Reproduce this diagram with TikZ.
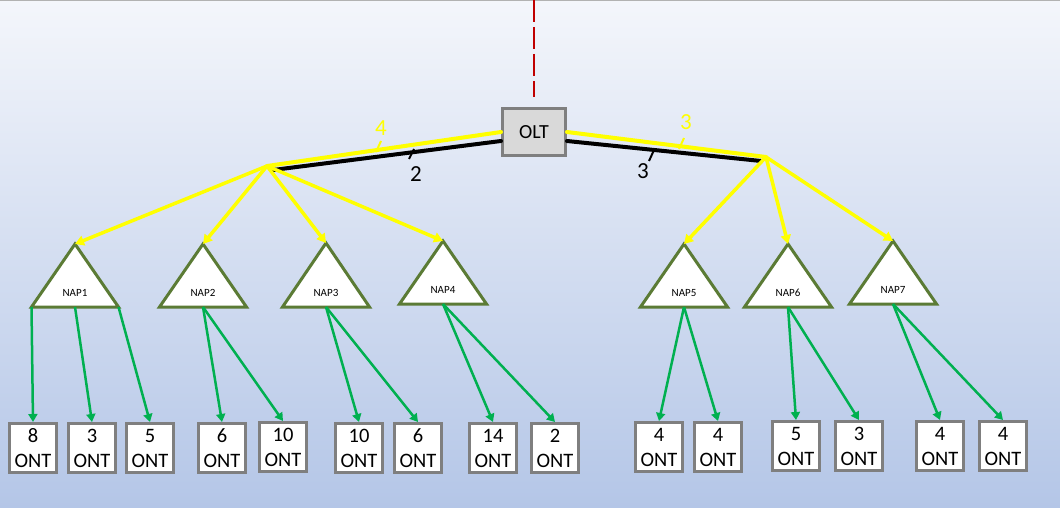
\documentclass[tikz,border=0pt]{standalone}
\usepackage{fontspec}
\setmainfont{Carlito}
\usetikzlibrary{arrows.meta}
\definecolor{bgtop}{HTML}{F4F6FB}
\definecolor{bgbot}{HTML}{B4C6E7}
\definecolor{boxgray}{HTML}{7F7F7F}
\definecolor{oltfill}{HTML}{D9D9D9}
\definecolor{napgreen}{HTML}{5B7B35}
\definecolor{arrgreen}{HTML}{00B050}
\definecolor{fibyellow}{HTML}{FFFF00}
\definecolor{dashred}{HTML}{C00000}
\newcommand{\mknap}[5]{%
  \coordinate (#1a) at (#2,#3);
  \coordinate (#1l) at (#2-43.5,#4);
  \coordinate (#1r) at (#2+43.5,#4);
  \coordinate (#1b) at (#2,#4);
  \draw[napstyle] (#1a) -- (#1r) -- (#1l) -- cycle;
  \node[naplabel] (#1) at (#2,#4-14) {#5};
}
\begin{document}
\begin{tikzpicture}[x=1pt,y=-1pt,
  ontbox/.style={draw=boxgray, line width=3pt, fill=white, minimum width=47pt,
    minimum height=49pt, inner sep=0pt, align=center,
    font=\fontsize{20.5}{25}\selectfont},
  oltbox/.style={draw=boxgray, line width=3pt, fill=oltfill, minimum width=63pt,
    minimum height=47pt, inner sep=0pt, font=\fontsize{20}{22}\selectfont},
  napstyle/.style={draw=napgreen, line width=3pt, fill=white, line join=miter},
  naplabel/.style={inner sep=1pt, font=\fontsize{11}{12}\selectfont},
  yline/.style={draw=fibyellow, line width=4pt, line cap=round},
  bline/.style={draw=black, line width=4pt, line cap=round},
  yarrow/.style={draw=fibyellow, line width=3.5pt, -{Triangle[length=9pt,width=10pt]}},
  garrow/.style={draw=arrgreen, line width=2.5pt, -{Triangle[length=8pt,width=9pt]}},
  tickmark/.style={line width=2pt},
  numlabel/.style={inner sep=0pt, font=\fontsize{23}{25}\selectfont}
]
\useasboundingbox (0,0) rectangle (1060,508);
\shade[top color=bgtop, bottom color=bgbot] (0,0) rectangle (1060,508);
\draw[gray!60, line width=1.5pt] (0,0.75) -- (1060,0.75);

% OLT
\node[oltbox] (olt) at (534,132) {OLT};
\coordinate (feed) at (534,0);
\draw[dashred, line width=2pt, dash pattern=on 22pt off 5pt] (feed) -- ([yshift=10pt]olt.north);

% junctions
\coordinate (jL) at (267,166);
\coordinate (jLb) at (273,170);
\coordinate (jR) at (766,157);
\coordinate (jRb) at (761,161);

% NAPs
\mknap{n1}{75}{244}{307}{NAP1}
\mknap{n2}{203}{244}{307}{NAP2}
\mknap{n3}{326}{243}{307}{NAP3}
\mknap{n4}{443}{241}{304}{NAP4}
\mknap{n5}{684}{244}{307}{NAP5}
\mknap{n6}{788}{244}{307}{NAP6}
\mknap{n7}{893}{241}{304}{NAP7}

% feeder lines
\draw[yline] (olt.west) -- (jL);
\draw[bline] ([yshift=-9pt]olt.west) -- (jLb);
\draw[yline] (olt.east) -- (jR);
\draw[bline] ([yshift=-9pt]olt.east) -- (jRb);

% yellow distribution arrows
\foreach \n in {n1,n2,n3,n4} \draw[yarrow] (jL) -- (\n a);
\foreach \n in {n5,n6,n7} \draw[yarrow] (jR) -- (\n a);

% tick marks and counts
\draw[tickmark, fibyellow] (376,152) -- (381,141);
\draw[tickmark, black] (409,159) -- (414,149);
\draw[tickmark, fibyellow] (679,149) -- (684,138);
\draw[tickmark, black] (649,161) -- (654,150);
\node[numlabel, text=fibyellow] (c4) at (381,128) {4};
\node[numlabel] (c2) at (416,174) {2};
\node[numlabel, text=fibyellow] (c3y) at (686,122) {3};
\node[numlabel] (c3b) at (643,171) {3};

% ONT boxes
\node[ontbox] (o1) at (33,448) {8\\ONT};
\node[ontbox] (o2) at (92,448) {3\\ONT};
\node[ontbox] (o3) at (150,448) {5\\ONT};
\node[ontbox] (o4) at (222,448) {6\\ONT};
\node[ontbox] (o5) at (283,447) {10\\ONT};
\node[ontbox] (o6) at (359,448) {10\\ONT};
\node[ontbox] (o7) at (418,448) {6\\ONT};
\node[ontbox] (o8) at (493,448) {14\\ONT};
\node[ontbox] (o9) at (555,448) {2\\ONT};
\node[ontbox] (o10) at (659,447) {4\\ONT};
\node[ontbox] (o11) at (718,447) {4\\ONT};
\node[ontbox] (o12) at (796,446) {5\\ONT};
\node[ontbox] (o13) at (859,446) {3\\ONT};
\node[ontbox] (o14) at (940,446) {4\\ONT};
\node[ontbox] (o15) at (1003,446) {4\\ONT};

% green arrows
\draw[garrow] (n1l) -- (o1.north);
\draw[garrow] (n1b) -- (o2.north);
\draw[garrow] (n1r) -- (o3.north);
\draw[garrow] (n2b) -- (o4.north);
\draw[garrow] (n2b) -- (o5.north);
\draw[garrow] (n3b) -- (o6.north);
\draw[garrow] (n3b) -- (o7.north);
\draw[garrow] (n4b) -- (o8.north);
\draw[garrow] (n4b) -- (o9.north);
\draw[garrow] (n5b) -- (o10.north);
\draw[garrow] (n5b) -- (o11.north);
\draw[garrow] (n6b) -- (o12.north);
\draw[garrow] (n6b) -- (o13.north);
\draw[garrow] (n7b) -- (o14.north);
\draw[garrow] (n7b) -- (o15.north);
\end{tikzpicture}
\end{document}
